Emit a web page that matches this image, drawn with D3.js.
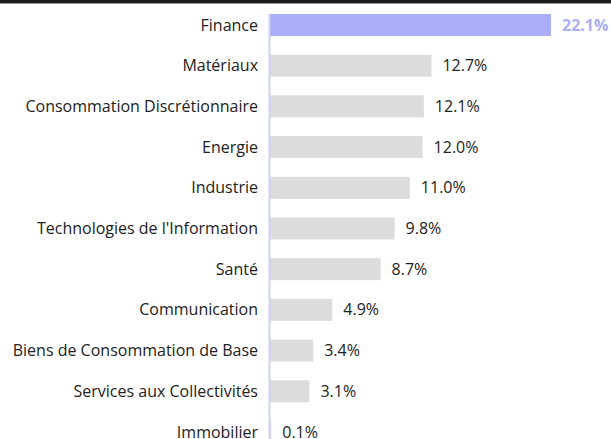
<!DOCTYPE html>
<html><head><meta charset="utf-8">
<script src="https://cdn.jsdelivr.net/npm/d3@7"></script>
<style>html,body{margin:0;padding:0;background:#fff;overflow:hidden}</style>
</head><body>
<svg id="c" width="611" height="439"></svg>
<script>
const categories = ["Finance","Matériaux","Consommation Discrétionnaire","Energie","Industrie","Technologies de l'Information","Santé","Communication","Biens de Consommation de Base","Services aux Collectivités","Immobilier"];
const values = [22.1,12.7,12.1,12.0,11.0,9.8,8.7,4.9,3.4,3.1,0.1];
const highlight = "Finance";

const svg = d3.select("#c");
const x0 = 270, x1 = 551;
const step = 40.7, pad = 0.46;
const x = d3.scaleLinear().domain([0, 22.1]).range([x0, x1]);
const y = d3.scaleBand().domain(categories).range([14, 14 + step*(categories.length - pad)]).paddingInner(pad).paddingOuter(0);

// top rule
svg.append("rect").attr("x",0).attr("y",0).attr("width",611).attr("height",3).attr("fill","#1a1a1a");
svg.append("rect").attr("x",0).attr("y",3).attr("width",611).attr("height",1).attr("fill","#9a9a9a");

const font = "'Open Sans', sans-serif";
const fs = 16;
svg.append("g").selectAll("rect").data(categories).join("rect")
  .attr("x", x0)
  .attr("y", d => y(d))
  .attr("width", (d,i) => x(values[i]) - x0)
  .attr("height", y.bandwidth())
  .attr("fill", d => d === highlight ? "#aaaef7" : "#dcdcdc");

// axis line
svg.append("line").attr("x1", x0-0.5).attr("x2", x0-0.5).attr("y1", 14).attr("y2", 439)
  .attr("stroke", "#cfd0f7").attr("stroke-width", 2);

svg.append("g").selectAll("text").data(categories).join("text")
  .attr("x", 258)
  .attr("y", d => y(d) + y.bandwidth()/2)
  .attr("dy", "0.35em")
  .attr("text-anchor", "end")
  .attr("font-family", font).attr("font-size", fs).attr("fill", "#222")
  .text(d => d);

svg.append("g").selectAll("text").data(categories).join("text")
  .attr("x", (d,i) => x(values[i]) + 11)
  .attr("y", d => y(d) + y.bandwidth()/2)
  .attr("dy", "0.35em")
  .attr("font-family", font).attr("font-size", fs)
  .attr("font-weight", d => d === highlight ? 700 : 400)
  .attr("fill", d => d === highlight ? "#aaaef7" : "#222")
  .text((d,i) => d3.format(".1f")(values[i]) + "%");
</script>
</body></html>
